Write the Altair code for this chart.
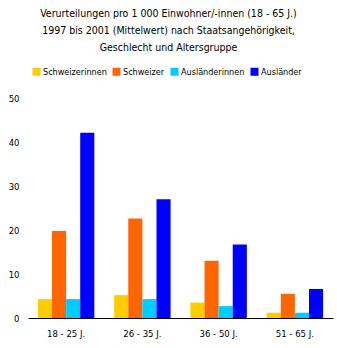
import altair as alt
import pandas as pd

groups = ["18 - 25 J.", "26 - 35 J.", "36 - 50 J.", "51 - 65 J."]
series = ["Schweizerinnen", "Schweizer", "Ausländerinnen", "Ausländer"]
colors = ["#FFCC00", "#FF6600", "#00CCFF", "#0000FF"]
values = {
    "Schweizerinnen": [4.3, 5.2, 3.5, 1.2],
    "Schweizer": [19.8, 22.6, 13.0, 5.5],
    "Ausländerinnen": [4.3, 4.3, 2.7, 1.2],
    "Ausländer": [42.1, 27.0, 16.7, 6.6],
}

rows = []
for s in series:
    for g, v in zip(groups, values[s]):
        rows.append({"Gruppe": g, "Serie": s, "Wert": v})
df = pd.DataFrame(rows)

FONT = "'DejaVu Sans Condensed', 'Liberation Sans Narrow', 'Noto Sans', sans-serif"

chart = alt.Chart(df).mark_bar().encode(
    x=alt.X("Gruppe:N", sort=groups,
            scale=alt.Scale(paddingInner=0.26, paddingOuter=0.13),
            axis=alt.Axis(title=None, labelAngle=0, ticks=False, domainColor="black",
                          labelFont=FONT, labelFontSize=9.5, labelColor="black", labelPadding=10)),
    xOffset=alt.XOffset("Serie:N", sort=series),
    y=alt.Y("Wert:Q", scale=alt.Scale(domain=[0, 50]),
            axis=alt.Axis(title=None, values=[0, 10, 20, 30, 40, 50], grid=False, domain=False,
                          ticks=False, labelFont=FONT, labelFontSize=9.5, labelColor="black",
                          labelPadding=9)),
    color=alt.Color("Serie:N", sort=series,
                    scale=alt.Scale(domain=series, range=colors),
                    legend=alt.Legend(title=None, orient="none", direction="horizontal",
                                      legendX=4, legendY=-31, symbolType="square",
                                      symbolSize=64, symbolStrokeWidth=0,
                                      labelFont=FONT, labelFontSize=9, labelColor="black",
                                      columnPadding=5, labelOffset=2)),
).properties(
    width=305, height=220,
    title=alt.TitleParams(
        ["Verurteilungen pro 1 000 Einwohner/-innen (18 - 65 J.)",
         "1997 bis 2001 (Mittelwert) nach Staatsangehörigkeit,",
         "Geschlecht und Altersgruppe"],
        font=FONT, fontSize=10.5, fontWeight="normal", color="black",
        anchor="middle", dx=-12, offset=14, lineHeight=17,
    ),
    autosize=alt.AutoSizeParams(type="none"),
    padding={"left": 28, "top": 98, "right": 4, "bottom": 30},
).configure_view(stroke=None)

chart.save("out.html", embed_options={"renderer": "svg", "actions": False})
